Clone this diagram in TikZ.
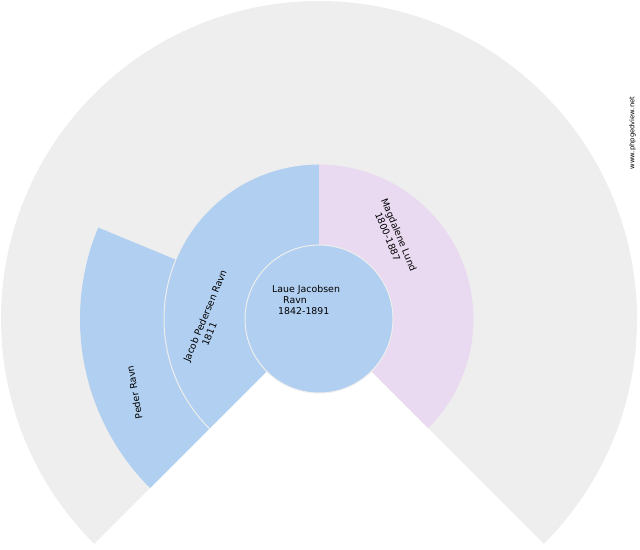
\documentclass[tikz,border=0pt]{standalone}
\usepackage{fontspec}
\usetikzlibrary{calc}
\newfontfamily\fanfont{DejaVu Sans}
\definecolor{malec}{HTML}{B1CFF0}
\definecolor{femalec}{HTML}{E9DAF1}
\definecolor{bgc}{HTML}{EEEEEE}
\tikzset{
  lbl/.style={font={\fanfont\fontsize{9.4bp}{11bp}\selectfont}, inner sep=0pt, align=left, text=black},
  sep/.style={draw=bgc, line width=1bp},
}
\begin{document}
\begin{tikzpicture}[x=1bp,y=1bp]
\useasboundingbox (0,0) rectangle (640,550);
\coordinate (C) at (319,231);
% background fan
\fill[bgc] (C) -- ++(225:318) arc[start angle=225, end angle=-45, radius=318] -- cycle;
% generation 3
\fill[malec] ($(C)+(225:155)$) -- ($(C)+(225:239)$) arc[start angle=225, end angle=157.5, radius=239] -- ($(C)+(157.5:155)$) arc[start angle=157.5, end angle=225, radius=155] -- cycle;
% parents
\fill[malec] (C) -- ++(225:155) arc[start angle=225, end angle=90, radius=155] -- cycle;
\fill[femalec] (C) -- ++(90:155) arc[start angle=90, end angle=-45, radius=155] -- cycle;
\draw[sep] ($(C)+(225:155)$) arc[start angle=225, end angle=-45, radius=155];
% root
\fill[malec] (C) circle[radius=74];
\draw[sep] (C) circle[radius=74];
% labels
\node[lbl, anchor=north west] (root) at (272,265) {Laue Jacobsen\\\hspace*{11bp}Ravn\\\hspace*{6bp}1842-1891};
\node[lbl, rotate=67.5] (father) at (210,232) {Jacob Pedersen Ravn\\\hspace*{22bp}1811};
\node[lbl, rotate=-67.5] (mother) at (394,313) {Magdalene Lund\\\hspace*{10.6bp}1800-1887};
\node[lbl, rotate=100] (gfather) at (134.5,157.5) {Peder Ravn};
\node[font={\fanfont\fontsize{6.8bp}{8bp}\selectfont}, inner sep=0pt, rotate=90] (site) at (632.5,417) {www.phpgedview.net};
\end{tikzpicture}
\end{document}
